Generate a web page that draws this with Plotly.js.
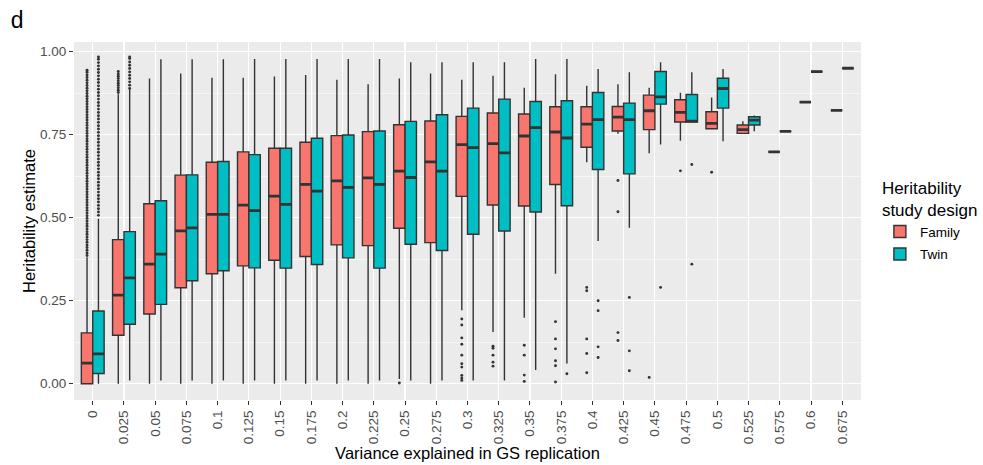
<!DOCTYPE html>
<html>
<head>
<meta charset="utf-8">
<script src="https://cdn.plot.ly/plotly-3.0.1.min.js"></script>
<style>html,body{margin:0;padding:0;background:#fff;}#chart{width:983px;height:465px;}</style>
</head>
<body>
<div id="chart"></div>
<script>
const categories = ['0','0.025','0.05','0.075','0.1','0.125','0.15','0.175','0.2','0.225','0.25','0.275','0.3','0.325','0.35','0.375','0.4','0.425','0.45','0.475','0.5','0.525','0.575','0.6','0.675'];

// Family (study design) box statistics
const famQ1    = [0.0, 0.146, 0.21, 0.289, 0.331, 0.355, 0.372, 0.383, 0.418, 0.416, 0.468, 0.425, 0.564, 0.538, 0.535, 0.60, 0.712, 0.761, 0.765, 0.788, 0.768, 0.754, 0.698, 0.848, 0.823];
const famMed   = [0.062, 0.267, 0.36, 0.46, 0.51, 0.538, 0.565, 0.60, 0.611, 0.62, 0.64, 0.668, 0.72, 0.723, 0.746, 0.758, 0.782, 0.803, 0.822, 0.817, 0.784, 0.765, 0.698, 0.848, 0.823];
const famQ3    = [0.153, 0.434, 0.542, 0.628, 0.667, 0.698, 0.709, 0.727, 0.747, 0.759, 0.78, 0.791, 0.805, 0.815, 0.812, 0.834, 0.834, 0.835, 0.869, 0.855, 0.819, 0.779, 0.698, 0.848, 0.823];
const famLow   = [0.0, 0.0, 0.0, 0.0, 0.0, 0.0, 0.0, 0.0, 0.0, 0.0, 0.014, 0.0, 0.221, 0.156, 0.199, 0.331, 0.667, 0.753, 0.694, 0.732, 0.768, 0.754, 0.698, 0.848, 0.823];
const famHigh  = [0.381, 0.872, 0.919, 0.934, 0.921, 0.921, 0.925, 0.93, 0.915, 0.902, 0.919, 0.934, 0.915, 0.927, 0.891, 0.932, 0.897, 0.902, 0.891, 0.876, 0.862, 0.79, 0.698, 0.848, 0.823];

// Twin (study design) box statistics
const twinQ1   = [0.031, 0.179, 0.239, 0.31, 0.34, 0.349, 0.348, 0.359, 0.379, 0.348, 0.42, 0.401, 0.45, 0.46, 0.517, 0.536, 0.645, 0.632, 0.842, 0.788, 0.83, 0.779, 0.76, 0.94, 0.95];
const twinMed  = [0.09, 0.319, 0.39, 0.469, 0.51, 0.521, 0.54, 0.58, 0.591, 0.60, 0.621, 0.64, 0.711, 0.695, 0.771, 0.74, 0.795, 0.795, 0.864, 0.791, 0.889, 0.794, 0.76, 0.94, 0.95];
const twinQ3   = [0.219, 0.458, 0.551, 0.629, 0.669, 0.69, 0.709, 0.739, 0.749, 0.761, 0.79, 0.81, 0.83, 0.857, 0.85, 0.852, 0.877, 0.845, 0.94, 0.871, 0.92, 0.804, 0.76, 0.94, 0.95];
const twinLow  = [0.0, 0.01, 0.01, 0.01, 0.01, 0.01, 0.01, 0.01, 0.01, 0.01, 0.01, 0.01, 0.01, 0.01, 0.041, 0.061, 0.43, 0.47, 0.72, 0.788, 0.73, 0.76, 0.76, 0.94, 0.95];
const twinHigh = [0.497, 0.885, 0.977, 0.977, 0.977, 0.978, 0.978, 0.978, 0.978, 0.978, 0.968, 0.968, 0.968, 0.968, 0.978, 0.978, 0.948, 0.938, 0.968, 0.938, 0.948, 0.808, 0.76, 0.94, 0.95];

// Outliers: dense columns at 0 and 0.025
const famOut0 = [0.386,0.394,0.402,0.410,0.418,0.426,0.434,0.442,0.450,0.458,0.466,0.474,0.482,0.490,0.498,0.506,0.514,0.522,0.530,0.538,0.546,0.554,0.562,0.570,0.578,0.586,0.594,0.602,0.610,0.618,0.626,0.634,0.642,0.650,0.658,0.666,0.674,0.682,0.690,0.698,0.706,0.714,0.722,0.730,0.738,0.746,0.754,0.762,0.770,0.778,0.786,0.794,0.802,0.810,0.818,0.826,0.834,0.842,0.850,0.858,0.866,0.874,0.882,0.890,0.898,0.906,0.914,0.922,0.930,0.938,0.944];
const famOut0025 = [0.877,0.884,0.891,0.898,0.905,0.912,0.919,0.926,0.933,0.94];
const twinOut0 = [0.507,0.517,0.527,0.537,0.547,0.557,0.567,0.577,0.587,0.597,0.607,0.617,0.627,0.637,0.647,0.657,0.667,0.677,0.687,0.697,0.707,0.717,0.727,0.737,0.747,0.757,0.767,0.777,0.787,0.797,0.807,0.817,0.827,0.837,0.847,0.857,0.867,0.877,0.887,0.897,0.907,0.917,0.927,0.937,0.947,0.957,0.967,0.977,0.984];
const twinOut0025 = [0.889,0.899,0.909,0.919,0.929,0.939,0.949,0.959,0.969,0.979,0.984];

// Outliers: sparse
const famOutCat = ['0.25','0.3','0.3','0.3','0.3','0.3','0.3','0.3','0.3','0.3','0.3','0.325','0.325','0.325','0.325','0.325','0.35','0.35','0.35','0.35','0.375','0.375','0.375','0.375','0.375','0.375','0.4','0.4','0.4','0.4','0.4','0.425','0.425','0.425','0.425','0.45','0.475','0.5'];
const famOutVal = [0.002,0.195,0.177,0.138,0.119,0.086,0.06,0.05,0.025,0.017,0.01,0.113,0.107,0.086,0.065,0.053,0.116,0.086,0.026,0.007,0.187,0.135,0.105,0.069,0.054,0.005,0.29,0.28,0.135,0.091,0.033,0.612,0.518,0.154,0.13,0.019,0.641,0.637];
const twinOutCat = ['0.375','0.4','0.4','0.4','0.4','0.425','0.425','0.425','0.45','0.475','0.475'];
const twinOutVal = [0.03,0.25,0.22,0.111,0.079,0.26,0.099,0.039,0.29,0.66,0.36];

const groupNames = ['Family','Twin'];
const groupColors = ['#F8766D','#00BFC4'];

const OFF = 0.1825, W = 0.365;
const EDGE = '#333333';
const idx = categories.map((c,i)=>i);
const pos = (cat, off) => categories.indexOf(cat) + off;

function boxTrace(name, color, off, q1, med, q3, lo, hi) {
  return {
    type:'box', name:name, legendgroup:name,
    x: idx.map(i=>i+off), q1:q1, median:med, q3:q3, lowerfence:lo, upperfence:hi,
    width: W, fillcolor: color, line:{color:EDGE, width:1.4}, whiskerwidth:0,
    boxpoints:false, hoverinfo:'skip'
  };
}
function medTrace(name, off, med) {
  return {
    type:'box', name:name, legendgroup:name, showlegend:false,
    x: idx.map(i=>i+off), q1:med, median:med, q3:med, lowerfence:med, upperfence:med,
    width: W, fillcolor:'rgba(0,0,0,0)', line:{color:EDGE, width:2.8}, whiskerwidth:0,
    boxpoints:false, hoverinfo:'skip'
  };
}
function outTrace(name, off, d0, d1, cats, vals) {
  const xs = [].concat(d0.map(()=>pos('0',off)), d1.map(()=>pos('0.025',off)), cats.map(c=>pos(c,off)));
  const ys = [].concat(d0, d1, vals);
  return {
    type:'scatter', mode:'markers', name:name, legendgroup:name, showlegend:false,
    x: xs, y: ys, marker:{color:EDGE, size:2.9, line:{width:0}}, hoverinfo:'skip'
  };
}

const data = [
  boxTrace(groupNames[0], groupColors[0], -OFF, famQ1, famMed, famQ3, famLow, famHigh),
  boxTrace(groupNames[1], groupColors[1], OFF, twinQ1, twinMed, twinQ3, twinLow, twinHigh),
  medTrace(groupNames[0], -OFF, famMed),
  medTrace(groupNames[1], OFF, twinMed),
  outTrace(groupNames[0], -OFF, famOut0, famOut0025, famOutCat, famOutVal),
  outTrace(groupNames[1], OFF, twinOut0, twinOut0025, twinOutCat, twinOutVal)
];

const FONT = '"Liberation Sans", Arial, Helvetica, sans-serif';
const layout = {
  width:983, height:465,
  margin:{l:74, r:122, t:42, b:65, autoexpand:false},
  paper_bgcolor:'#ffffff', plot_bgcolor:'#EBEBEB',
  font:{family:FONT, color:'#000000'},
  hovermode:false,
  boxmode:'overlay',
  title:{text:'d', font:{family:FONT, size:23, color:'#000'}, xref:'container', yref:'container', x:0.011, xanchor:'left', y:0.957, yanchor:'middle'},
  xaxis:{
    range:[-0.6, 24.6], tickmode:'array', tickvals:idx, ticktext:categories,
    tickangle:-90, ticks:'outside', ticklen:4, tickwidth:1, tickcolor:EDGE,
    tickfont:{size:13.5, color:'#4D4D4D', family:FONT},
    showgrid:true, gridcolor:'#FFFFFF', gridwidth:1.1, zeroline:false, showline:false,
    automargin:false,
    title:{text:'Variance explained in GS replication', font:{size:16.5, color:'#000', family:FONT}, standoff:3}
  },
  yaxis:{
    range:[-0.049, 1.029], tickmode:'array', tickvals:[0,0.25,0.5,0.75,1],
    ticktext:['0.00','0.25','0.50','0.75','1.00'],
    ticks:'outside', ticklen:4, tickwidth:1, tickcolor:EDGE,
    tickfont:{size:13.5, color:'#4D4D4D', family:FONT},
    showgrid:true, gridcolor:'#FFFFFF', gridwidth:1.1, zeroline:false, showline:false,
    minor:{tickmode:'array', tickvals:[0.125,0.375,0.625,0.875], showgrid:true, gridcolor:'#FFFFFF', gridwidth:0.55},
    automargin:false,
    title:{text:'Heritability estimate', font:{size:16.5, color:'#000', family:FONT}, standoff:0}
  },
  legend:{
    x:1.024, xanchor:'left', y:0.5, yanchor:'middle',
    title:{text:'Heritability<br>study design', font:{size:17, color:'#000', family:FONT}},
    font:{size:13.5, color:'#000', family:FONT}, bgcolor:'rgba(255,255,255,0)', tracegroupgap:2
  }
};

Plotly.newPlot('chart', data, layout, {displayModeBar:false, staticPlot:true});
</script>
</body>
</html>
